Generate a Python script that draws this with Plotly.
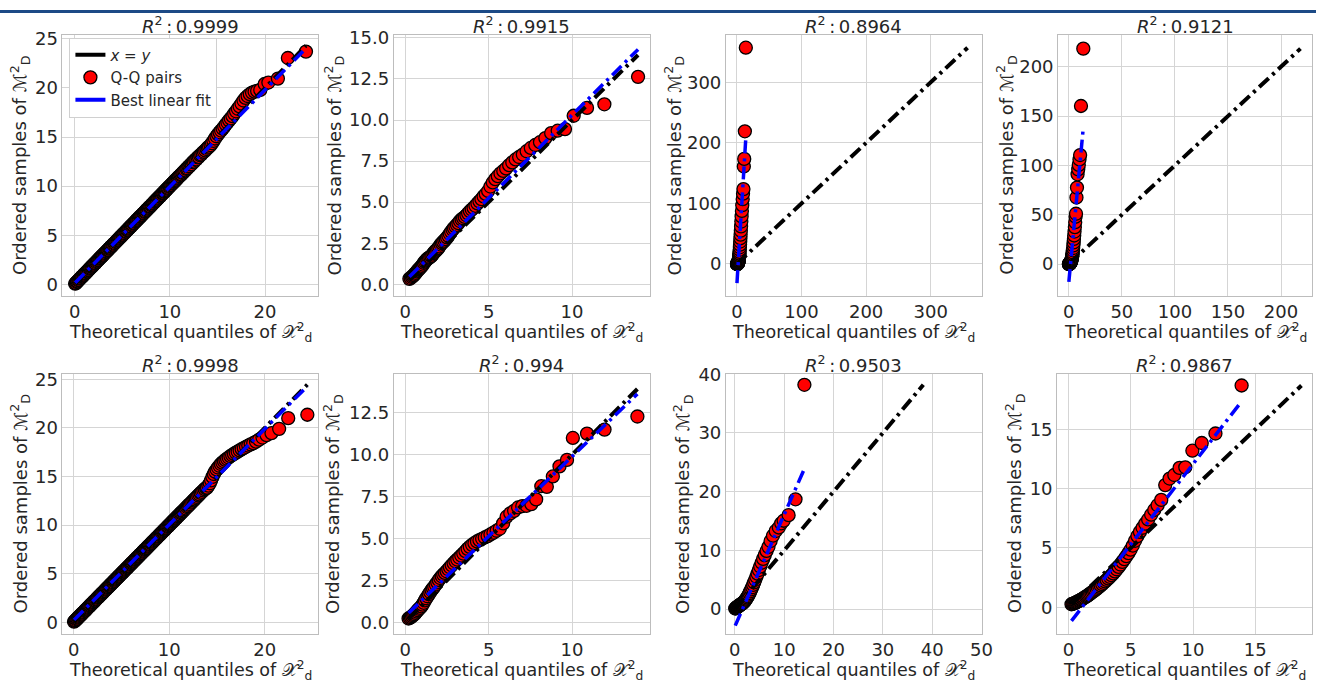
import plotly.graph_objects as go

W, H = 1327, 686
FONT = "DejaVu Sans"
TXT = "#262626"

# ---------------- data: Q-Q pairs per panel ----------------
p1_x = [
    0.05, 0.13, 0.22, 0.30, 0.39, 0.47, 0.56, 0.64, 0.73, 0.81,
    0.90, 0.98, 1.07, 1.15, 1.24, 1.32, 1.41, 1.49, 1.58, 1.66,
    1.75, 1.83, 1.92, 2.00, 2.09, 2.17, 2.26, 2.34, 2.43, 2.51,
    2.60, 2.68, 2.77, 2.85, 2.94, 3.02, 3.11, 3.19, 3.28, 3.36,
    3.45, 3.53, 3.62, 3.70, 3.79, 3.87, 3.96, 4.04, 4.13, 4.21,
    4.30, 4.38, 4.47, 4.55, 4.64, 4.72, 4.81, 4.89, 4.98, 5.06,
    5.15, 5.23, 5.32, 5.40, 5.49, 5.57, 5.66, 5.74, 5.83, 5.91,
    6.00, 6.08, 6.17, 6.25, 6.34, 6.42, 6.51, 6.59, 6.68, 6.76,
    6.85, 6.93, 7.02, 7.10, 7.19, 7.27, 7.36, 7.44, 7.53, 7.61,
    7.70, 7.78, 7.87, 7.95, 8.04, 8.12, 8.21, 8.29, 8.38, 8.46,
    8.55, 8.63, 8.72, 8.80, 8.89, 8.97, 9.06, 9.14, 9.23, 9.31,
    9.40, 9.48, 9.57, 9.65, 9.74, 9.82, 9.91, 9.99, 10.08, 10.16,
    10.25, 10.33, 10.42, 10.50, 10.59, 10.67, 10.76, 10.84, 10.93, 11.02,
    11.12, 11.22, 11.32, 11.42, 11.52, 11.63, 11.74, 11.85, 11.96, 12.07,
    12.18, 12.30, 12.42, 12.54, 12.66, 12.78, 12.91, 13.04, 13.17, 13.30,
    13.44, 13.58, 13.72, 13.86, 14.00,
    14.12, 14.28, 14.43, 14.58, 14.74, 14.90, 15.06, 15.22, 15.38, 15.55,
    15.71, 15.88, 16.05, 16.22, 16.40, 16.58, 16.76, 16.95, 17.14, 17.33,
    17.53, 17.74, 17.95, 18.17, 18.40, 18.64, 18.90, 19.17, 19.50, 19.96,
    20.35, 21.35, 22.40, 24.30,
]
p1_y = [
    0.06, 0.12, 0.23, 0.30, 0.41, 0.46, 0.57, 0.64, 0.75, 0.80,
    0.91, 0.98, 1.09, 1.14, 1.25, 1.32, 1.43, 1.48, 1.59, 1.66,
    1.77, 1.82, 1.93, 2.00, 2.11, 2.16, 2.27, 2.34, 2.45, 2.50,
    2.61, 2.68, 2.79, 2.84, 2.95, 3.02, 3.13, 3.18, 3.29, 3.36,
    3.47, 3.52, 3.63, 3.70, 3.81, 3.86, 3.97, 4.04, 4.15, 4.20,
    4.31, 4.38, 4.49, 4.54, 4.65, 4.72, 4.83, 4.88, 4.99, 5.06,
    5.17, 5.22, 5.33, 5.40, 5.51, 5.56, 5.67, 5.74, 5.85, 5.90,
    6.01, 6.08, 6.19, 6.24, 6.35, 6.42, 6.53, 6.58, 6.69, 6.76,
    6.87, 6.92, 7.03, 7.10, 7.21, 7.26, 7.37, 7.44, 7.55, 7.60,
    7.71, 7.78, 7.89, 7.94, 8.05, 8.12, 8.23, 8.28, 8.39, 8.46,
    8.57, 8.62, 8.73, 8.80, 8.91, 8.96, 9.07, 9.14, 9.25, 9.30,
    9.41, 9.48, 9.59, 9.64, 9.75, 9.82, 9.93, 9.98, 10.09, 10.16,
    10.27, 10.32, 10.43, 10.50, 10.61, 10.66, 10.77, 10.84, 10.95, 11.01,
    11.13, 11.20, 11.34, 11.40, 11.54, 11.60, 11.76, 11.82, 11.98, 12.03,
    12.20, 12.25, 12.44, 12.49, 12.68, 12.72, 12.92, 12.98, 13.15, 13.22,
    13.40, 13.50, 13.64, 13.78, 13.92,
    14.02, 14.18, 14.38, 14.60, 14.85, 15.08, 15.28, 15.48, 15.66, 15.85,
    16.05, 16.28, 16.48, 16.70, 16.90, 17.12, 17.38, 17.62, 17.88, 18.12,
    18.40, 18.72, 18.98, 19.18, 19.36, 19.52, 19.62, 19.70, 19.80, 20.40,
    20.55, 20.95, 23.05, 23.70,
]

p2_x = [
    0.25, 0.33, 0.40, 0.46, 0.52, 0.58, 0.64, 0.70, 0.76, 0.82,
    0.88, 0.94, 1.00, 1.06, 1.12, 1.18, 1.24, 1.31, 1.37, 1.43,
    1.50, 1.57, 1.63, 1.70, 1.77, 1.84, 1.91, 1.98, 2.05, 2.12,
    2.20, 2.27, 2.35, 2.43, 2.51, 2.59, 2.67, 2.75, 2.84, 2.92,
    3.01, 3.10, 3.19, 3.28, 3.38, 3.47, 3.57, 3.67, 3.77, 3.88,
    3.99, 4.10, 4.21, 4.33, 4.45, 4.57, 4.70, 4.83, 4.97, 5.11,
    5.25, 5.40, 5.55, 5.71, 5.88, 6.05, 6.23, 6.42, 6.62, 6.83,
    7.05, 7.28, 7.53, 7.80, 8.08, 8.40, 8.75, 9.14, 9.58, 10.10,
    10.90, 11.94, 13.96,
]
p2_y = [
    0.33, 0.38, 0.45, 0.50, 0.56, 0.63, 0.70, 0.78, 0.85, 0.92,
    0.98, 1.05, 1.12, 1.20, 1.30, 1.38, 1.45, 1.52, 1.58, 1.62,
    1.66, 1.72, 1.80, 1.90, 1.98, 2.05, 2.12, 2.20, 2.30, 2.42,
    2.50, 2.58, 2.66, 2.75, 2.85, 2.95, 3.08, 3.20, 3.32, 3.42,
    3.52, 3.62, 3.72, 3.85, 3.95, 4.02, 4.10, 4.20, 4.32, 4.45,
    4.55, 4.65, 4.78, 4.92, 5.05, 5.18, 5.35, 5.50, 5.68, 5.95,
    6.20, 6.40, 6.58, 6.75, 6.90, 7.05, 7.25, 7.42, 7.60, 7.75,
    7.90, 8.10, 8.30, 8.48, 8.65, 8.90, 9.20, 9.35, 9.45, 10.26,
    10.74, 10.96, 12.63,
]

p3_x = [
    0.08, 0.18, 0.27, 0.36, 0.45, 0.54, 0.63, 0.72, 0.82, 0.92,
    1.02, 1.12, 1.23, 1.34, 1.45, 1.57, 1.69, 1.81, 1.94, 2.07,
    2.21, 2.35, 2.50, 2.65, 2.81, 2.97, 3.14, 3.32, 3.51, 3.71,
    3.92, 4.14, 4.37, 4.61, 4.87, 5.14, 5.43, 5.74, 6.07, 6.43,
    6.82, 7.25, 7.73, 8.28, 8.92, 9.45, 10.10, 10.70, 11.30, 12.30,
    13.80,
]
p3_y = [
    0.01, 0.02, 0.04, 0.06, 0.09, 0.12, 0.16, 0.21, 0.27, 0.34,
    0.42, 0.52, 0.64, 0.78, 0.95, 1.15, 1.40, 1.70, 2.05, 2.50,
    3.00, 3.60, 4.30, 5.10, 6.10, 7.30, 8.70, 10.3, 12.2, 14.5,
    17.0, 20.0, 23.5, 27.5, 32.0, 37.0, 42.5, 48.5, 55.0, 62.0,
    70.0, 78.5, 87.5, 97.0, 107.0, 116.0, 123.6, 161.0, 173.5, 219.0,
    357.0,
]

p4_x = [
    0.08, 0.18, 0.27, 0.36, 0.45, 0.54, 0.63, 0.72, 0.82, 0.92,
    1.02, 1.12, 1.23, 1.34, 1.45, 1.57, 1.69, 1.81, 1.94, 2.07,
    2.21, 2.35, 2.50, 2.65, 2.81, 2.97, 3.14, 3.32, 3.51, 3.71,
    3.92, 4.14, 4.37, 4.61, 4.87, 5.14, 5.43, 5.74, 6.07, 6.43,
    6.82, 7.25, 7.73, 8.28, 8.92, 9.45, 10.10, 10.70, 11.50, 13.70,
]
p4_y = [
    0.01, 0.03, 0.05, 0.08, 0.11, 0.15, 0.20, 0.26, 0.33, 0.41,
    0.50, 0.61, 0.74, 0.89, 1.06, 1.26, 1.50, 1.78, 2.10, 2.48,
    2.92, 3.42, 4.00, 4.70, 5.50, 6.40, 7.50, 8.80, 10.3, 12.0,
    14.0, 16.3, 19.0, 22.0, 25.5, 29.0, 33.0, 37.5, 42.5, 48.0,
    51.0, 67.5, 77.5, 91.0, 96.0, 100.5, 106.0, 110.5, 160.2, 218.3,
]

p5_x = [
    0.04, 0.12, 0.21, 0.29, 0.38, 0.46, 0.55, 0.63, 0.72, 0.80,
    0.89, 0.97, 1.06, 1.14, 1.23, 1.31, 1.40, 1.48, 1.57, 1.65,
    1.74, 1.82, 1.91, 1.99, 2.08, 2.16, 2.25, 2.33, 2.42, 2.50,
    2.59, 2.67, 2.76, 2.84, 2.93, 3.01, 3.10, 3.18, 3.27, 3.35,
    3.44, 3.52, 3.61, 3.69, 3.78, 3.86, 3.95, 4.03, 4.12, 4.20,
    4.29, 4.37, 4.46, 4.54, 4.63, 4.71, 4.80, 4.88, 4.97, 5.05,
    5.14, 5.22, 5.31, 5.39, 5.48, 5.56, 5.65, 5.73, 5.82, 5.90,
    5.99, 6.07, 6.16, 6.24, 6.33, 6.41, 6.50, 6.58, 6.67, 6.75,
    6.84, 6.92, 7.01, 7.09, 7.18, 7.26, 7.35, 7.43, 7.52, 7.60,
    7.69, 7.77, 7.86, 7.94, 8.03, 8.11, 8.20, 8.28, 8.37, 8.45,
    8.54, 8.62, 8.71, 8.79, 8.88, 8.96, 9.05, 9.13, 9.22, 9.30,
    9.39, 9.47, 9.56, 9.64, 9.73, 9.81, 9.90, 9.98, 10.07, 10.15,
    10.24, 10.32, 10.41, 10.49, 10.58, 10.66, 10.75, 10.83, 10.92, 11.01,
    11.11, 11.21, 11.31, 11.41, 11.51, 11.62, 11.73, 11.84, 11.95, 12.06,
    12.17, 12.29, 12.41, 12.53, 12.65, 12.77, 12.90, 13.03, 13.16, 13.29,
    13.43, 13.57, 13.71, 13.85,
    13.95, 14.10, 14.24, 14.38, 14.52, 14.66, 14.80, 14.95, 15.10, 15.25,
    15.40, 15.56, 15.72, 15.88, 16.05, 16.22, 16.40, 16.58, 16.77, 16.96,
    17.16, 17.37, 17.58, 17.80, 18.03, 18.27, 18.52, 18.79, 19.08, 19.40,
    19.76, 20.18, 20.70, 21.50, 22.45, 24.45,
]
p5_y = [
    0.05, 0.13, 0.20, 0.30, 0.37, 0.47, 0.54, 0.64, 0.71, 0.81,
    0.88, 0.98, 1.05, 1.15, 1.22, 1.32, 1.39, 1.49, 1.56, 1.66,
    1.73, 1.83, 1.90, 2.00, 2.07, 2.17, 2.24, 2.34, 2.41, 2.51,
    2.58, 2.68, 2.75, 2.85, 2.92, 3.02, 3.09, 3.19, 3.26, 3.36,
    3.43, 3.53, 3.60, 3.70, 3.77, 3.87, 3.94, 4.04, 4.11, 4.21,
    4.28, 4.38, 4.45, 4.55, 4.62, 4.72, 4.79, 4.89, 4.96, 5.06,
    5.13, 5.23, 5.30, 5.40, 5.47, 5.57, 5.64, 5.74, 5.81, 5.91,
    5.98, 6.08, 6.15, 6.25, 6.32, 6.42, 6.49, 6.59, 6.66, 6.76,
    6.83, 6.93, 7.00, 7.10, 7.17, 7.27, 7.34, 7.44, 7.51, 7.61,
    7.68, 7.78, 7.85, 7.95, 8.02, 8.12, 8.19, 8.29, 8.36, 8.46,
    8.53, 8.63, 8.70, 8.80, 8.87, 8.97, 9.04, 9.14, 9.21, 9.31,
    9.38, 9.48, 9.55, 9.65, 9.72, 9.82, 9.89, 9.99, 10.06, 10.16,
    10.23, 10.33, 10.40, 10.50, 10.57, 10.67, 10.74, 10.84, 10.91, 11.02,
    11.10, 11.22, 11.30, 11.42, 11.50, 11.63, 11.72, 11.85, 11.94, 12.07,
    12.16, 12.30, 12.40, 12.54, 12.64, 12.78, 12.89, 13.04, 13.15, 13.30,
    13.42, 13.56, 13.70, 13.80,
    13.85, 14.05, 14.30, 14.60, 14.95, 15.25, 15.50, 15.72, 15.92, 16.10,
    16.28, 16.42, 16.56, 16.70, 16.82, 16.95, 17.08, 17.20, 17.32, 17.45,
    17.55, 17.68, 17.80, 17.92, 18.05, 18.18, 18.30, 18.42, 18.58, 18.78,
    19.00, 19.25, 19.45, 19.90, 21.00, 21.35,
]

p6_x = [
    0.20, 0.27, 0.34, 0.41, 0.48, 0.55, 0.62, 0.69, 0.76, 0.83,
    0.90, 0.97, 1.04, 1.11, 1.18, 1.26, 1.34, 1.42, 1.50, 1.58,
    1.66, 1.74, 1.83, 1.92, 2.01, 2.10, 2.19, 2.28, 2.38, 2.48,
    2.58, 2.68, 2.79, 2.90, 3.01, 3.12, 3.24, 3.36, 3.48, 3.61,
    3.74, 3.87, 4.01, 4.15, 4.30, 4.45, 4.61, 4.77, 4.94, 5.11,
    5.29, 5.48, 5.67, 5.87, 6.08, 6.30, 6.53, 6.77, 7.02, 7.28,
    7.56, 7.85, 8.16, 8.49, 8.85, 9.25, 9.70, 10.05, 10.90, 11.95,
    13.92,
]
p6_y = [
    0.22, 0.26, 0.30, 0.36, 0.42, 0.48, 0.56, 0.64, 0.72, 0.80,
    0.86, 0.94, 1.05, 1.16, 1.30, 1.43, 1.55, 1.68, 1.80, 1.92,
    2.02, 2.12, 2.25, 2.38, 2.52, 2.64, 2.74, 2.84, 2.94, 3.04,
    3.16, 3.28, 3.40, 3.52, 3.64, 3.74, 3.86, 3.98, 4.10, 4.24,
    4.38, 4.50, 4.62, 4.72, 4.82, 4.90, 4.98, 5.06, 5.14, 5.24,
    5.34, 5.46, 5.58, 5.90, 6.30, 6.50, 6.65, 6.85, 6.93, 6.95,
    7.05, 7.33, 8.12, 8.08, 8.70, 9.30, 9.69, 11.00, 11.26, 11.50,
    12.28,
]

p7_x = [
    0.08, 0.18, 0.27, 0.36, 0.45, 0.54, 0.63, 0.72, 0.82, 0.92,
    1.02, 1.12, 1.23, 1.34, 1.45, 1.57, 1.69, 1.81, 1.94, 2.07,
    2.21, 2.35, 2.50, 2.65, 2.81, 2.97, 3.14, 3.32, 3.51, 3.71,
    3.92, 4.14, 4.37, 4.61, 4.87, 5.14, 5.43, 5.74, 6.07, 6.43,
    6.82, 7.25, 7.73, 8.28, 8.92, 9.40, 9.90, 10.90, 12.30, 14.10,
]
p7_y = [
    0.10, 0.15, 0.20, 0.26, 0.32, 0.38, 0.44, 0.50, 0.56, 0.62,
    0.68, 0.74, 0.80, 0.87, 0.94, 1.02, 1.10, 1.20, 1.32, 1.45,
    1.60, 1.78, 1.98, 2.20, 2.45, 2.72, 3.02, 3.35, 3.72, 4.12,
    4.55, 5.00, 5.50, 6.05, 6.65, 7.25, 7.90, 8.55, 9.20, 9.90,
    10.60, 11.60, 12.50, 13.30, 13.90, 14.60, 15.05, 16.00, 18.70, 38.20,
]

p8_x = [
    0.25, 0.33, 0.40, 0.47, 0.54, 0.61, 0.68, 0.75, 0.82, 0.90,
    0.98, 1.06, 1.14, 1.22, 1.30, 1.39, 1.48, 1.57, 1.66, 1.75,
    1.85, 1.95, 2.05, 2.15, 2.26, 2.37, 2.48, 2.59, 2.71, 2.83,
    2.95, 3.07, 3.20, 3.33, 3.46, 3.60, 3.74, 3.88, 4.03, 4.18,
    4.33, 4.49, 4.65, 4.82, 4.99, 5.17, 5.35, 5.54, 5.74, 5.95,
    6.17, 6.40, 6.64, 6.89, 7.16, 7.45, 7.77, 8.12, 8.50, 8.92,
    9.38, 9.95, 10.70, 11.80, 13.90,
]
p8_y = [
    0.25, 0.28, 0.31, 0.34, 0.37, 0.40, 0.44, 0.48, 0.52, 0.56,
    0.61, 0.66, 0.71, 0.76, 0.82, 0.88, 0.94, 1.00, 1.07, 1.14,
    1.22, 1.30, 1.38, 1.46, 1.55, 1.64, 1.74, 1.84, 1.95, 2.06,
    2.18, 2.30, 2.43, 2.56, 2.70, 2.85, 3.02, 3.20, 3.40, 3.60,
    3.82, 4.05, 4.30, 4.56, 4.85, 5.20, 5.60, 6.00, 6.35, 6.70,
    7.05, 7.40, 7.80, 8.20, 8.60, 9.05, 10.30, 10.85, 11.15, 11.75,
    11.80, 13.20, 13.85, 14.65, 18.70,
]

# R^2 of each panel and coefficients of the best linear fit
r2_labels = ["0.9999", "0.9915", "0.8964", "0.9121", "0.9998", "0.994", "0.9503", "0.9867"]
fit_slope = [0.985, 1.01, 17.5, 11.5, 0.985, 0.953, 1.905, 1.356]
fit_intercept = [0.10, 0.20, -33.0, -19.0, 0.20, 0.36, -2.96, -1.49]

samples_x = [p1_x, p2_x, p3_x, p4_x, p5_x, p6_x, p7_x, p8_x]
samples_y = [p1_y, p2_y, p3_y, p4_y, p5_y, p6_y, p7_y, p8_y]

# ---------------- layout: axes boxes in pixels (left, top, right, bottom) ----------------
boxes = [
    (63, 25, 321, 290), (397, 25, 655, 290), (732, 25, 990, 290), (1067, 25, 1323, 290),
    (63, 369, 321, 633), (397, 369, 655, 633), (732, 369, 990, 633), (1066, 369, 1323, 633),
]
x_ranges = [(-1.28, 25.6), (-0.69, 14.65), (-17, 379), (-10, 229.2),
            (-1.17, 25.6), (-0.69, 14.65), (-1.8, 50.05), (-0.9, 19.55)]
y_ranges = [(-1.17, 25.43), (-0.70, 15.2), (-52.5, 378.6), (-32.1, 232.5),
            (-1.19, 25.58), (-0.69, 14.84), (-4.2, 40.1), (-2.24, 19.7)]
x_dtick = [10, 5, 100, 50, 10, 5, 10, 5]
y_dtick = [5, 2.5, 100, 50, 5, 2.5, 10, 5]
y_fmt = ["d", ".1f", "d", "d", "d", ".1f", "d", "d"]
ylabel_x = [20, 337, 680, 1015, 20, 335, 688, 1023]
xlabel_gap = [37.5, 37.5, 37.5, 37.5, 37, 37, 37, 37]

fig = go.Figure()
DASHDOT = "13px,5px,3px,5px"
MARKER = dict(size=13, color="#ff0000", line=dict(color="black", width=1.3))

for i in range(8):
    n = i + 1
    xa, ya = f"x{n}", f"y{n}"
    xs, ys = samples_x[i], samples_y[i]
    # Q-Q pairs
    fig.add_trace(go.Scatter(
        x=xs, y=ys, mode="markers", xaxis=xa, yaxis=ya, showlegend=False, marker=MARKER,
    ))
    # identity line over the full data span
    lo = min(min(xs), min(ys))
    hi = max(max(xs), max(ys))
    fig.add_trace(go.Scatter(
        x=[lo, hi], y=[lo, hi], mode="lines", xaxis=xa, yaxis=ya, showlegend=False,
        line=dict(color="black", width=4, dash=DASHDOT),
    ))
    # best linear fit over the sample span
    fx = [min(xs), max(xs)]
    fy = [fit_slope[i] * v + fit_intercept[i] for v in fx]
    fig.add_trace(go.Scatter(
        x=fx, y=fy, mode="lines", xaxis=xa, yaxis=ya, showlegend=False,
        line=dict(color="#0000ff", width=3.5, dash=DASHDOT),
    ))

    l, t, r, b = boxes[i]
    axis_common = dict(
        showgrid=True, gridcolor="#d5d5d5", gridwidth=1, zeroline=False,
        showline=True, mirror=True, linecolor="#bdbdbd", linewidth=1,
        ticks="", tickfont=dict(family=FONT, size=18, color=TXT),
    )
    fig.update_layout({
        f"xaxis{n}": dict(domain=[l / W, r / W], anchor=ya, range=list(x_ranges[i]),
                          tick0=0, dtick=x_dtick[i], **axis_common),
        f"yaxis{n}": dict(domain=[1 - b / H, 1 - t / H], anchor=xa, range=list(y_ranges[i]),
                          tick0=0, dtick=y_dtick[i], tickformat=y_fmt[i], **axis_common),
    })

# legend entries (drawn in the first panel)
fig.add_trace(go.Scatter(x=[None], y=[None], mode="lines", name="<i>x</i> = <i>y</i>",
                         line=dict(color="black", width=4), xaxis="x1", yaxis="y1"))
fig.add_trace(go.Scatter(x=[None], y=[None], mode="markers", name="Q-Q pairs",
                         marker=MARKER, xaxis="x1", yaxis="y1"))
fig.add_trace(go.Scatter(x=[None], y=[None], mode="lines", name="Best linear fit",
                         line=dict(color="#0000ff", width=4), xaxis="x1", yaxis="y1"))

annotations = []
for i in range(8):
    l, t, r, b = boxes[i]
    cx = (l + r) / 2
    cy = (t + b) / 2
    annotations.append(dict(
        text=f"<i>R</i><sup>2</sup>\u2009:\u2009{r2_labels[i]}", x=cx / W, y=1 - (t - 10) / H,
        xref="paper", yref="paper", xanchor="center", yanchor="middle", showarrow=False,
        font=dict(family=FONT, size=18, color=TXT),
    ))
    annotations.append(dict(
        text="Theoretical quantiles of \U0001D4B3<sup>2</sup><sub>d</sub>",
        x=cx / W, y=1 - (b + xlabel_gap[i]) / H,
        xref="paper", yref="paper", xanchor="center", yanchor="middle", showarrow=False,
        font=dict(family=FONT, size=17.5, color=TXT),
    ))
    annotations.append(dict(
        text="Ordered samples of \u2133<sup>2</sup><sub>D</sub>",
        x=ylabel_x[i] / W, y=1 - cy / H, textangle=-90,
        xref="paper", yref="paper", xanchor="center", yanchor="middle", showarrow=False,
        font=dict(family=FONT, size=18, color=TXT),
    ))

fig.update_layout(
    width=W, height=H, margin=dict(l=0, r=0, t=0, b=0),
    paper_bgcolor="white", plot_bgcolor="white",
    font=dict(family=FONT, color=TXT),
    annotations=annotations,
    legend=dict(x=70 / W, y=1 - 28 / H, xanchor="left", yanchor="top",
                bgcolor="white", bordercolor="#d0d0d0", borderwidth=1,
                font=dict(family=FONT, size=15, color=TXT), itemwidth=30,
                tracegroupgap=0),
    shapes=[dict(type="rect", xref="paper", yref="paper", x0=0, x1=1,
                 y0=1 - 3 / H, y1=1, fillcolor="#1c4a86", line=dict(width=0), layer="above")],
)

fig.write_html("out.html")
